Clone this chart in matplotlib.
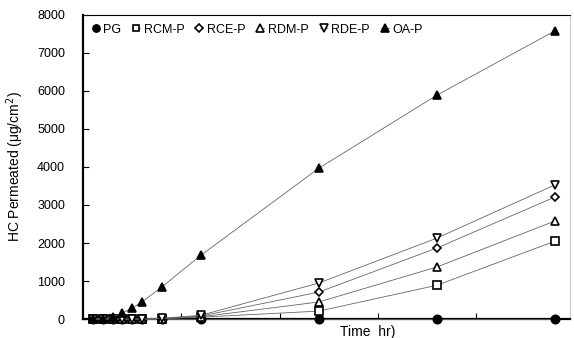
import matplotlib.pyplot as plt
import numpy as np

plt.rcParams['font.family'] = ['Liberation Sans', 'DejaVu Sans']

# time points (hr) and permeated amounts (ug/cm2)
time_hr = [1, 2, 3, 4, 5, 6, 8, 12, 24, 36, 48]
pg = [0, 0, 0, 0, 0, 0, 0, 0, 0, 0, 0]
rcm_p = [0, 0, 0, 0, 0, 0, 10, 50, 210, 890, 2050]
rce_p = [0, 0, 0, 0, 0, 0, 15, 80, 710, 1870, 3210]
rdm_p = [0, 0, 0, 0, 0, 0, 15, 60, 450, 1370, 2580]
rde_p = [0, 0, 0, 0, 0, 0, 20, 100, 950, 2130, 3530]
oa_p = [0, 0, 50, 160, 290, 450, 840, 1680, 3970, 5890, 7580]

y_ticks = [0, 1000, 2000, 3000, 4000, 5000, 6000, 7000, 8000]
x_ticks = [10, 20, 30, 40]

series = [
    ('PG', pg, 'o', 'black'),
    ('RCM-P', rcm_p, 's', 'white'),
    ('RCE-P', rce_p, 'D', 'white'),
    ('RDM-P', rdm_p, '^', 'white'),
    ('RDE-P', rde_p, 'v', 'white'),
    ('OA-P', oa_p, '^', 'black'),
]
sizes = {'o': 6, 's': 5.5, 'D': 4.5, '^': 6, 'v': 6}

fig = plt.figure(figsize=(5.74, 3.38), dpi=100)
ax = fig.add_axes([0.1446, 0.056, 0.848, 0.9])

for name, vals, mk, fc in series:
    ax.plot(time_hr, vals, color='#666666', lw=0.6, marker=mk,
            markersize=sizes[mk], markerfacecolor=fc, markeredgecolor='black',
            markeredgewidth=1.2, label=name, clip_on=False, zorder=3)

ax.set_xlim(0, 49.5)
ax.set_ylim(0, 8000)
ax.set_yticks(y_ticks)
ax.set_xticks(x_ticks)
ax.set_xticklabels([])
ax.tick_params(axis='y', direction='in', length=4, pad=13, labelsize=9)
ax.tick_params(axis='x', direction='in', length=4)
ax.spines['left'].set_linewidth(1.6)
ax.spines['bottom'].set_linewidth(1.6)
ax.spines['top'].set_linewidth(0.8)
ax.spines['right'].set_linewidth(0.6)
ax.spines['right'].set_color('#bbbbbb')

ax.set_ylabel('HC Permeated (μg/cm$^2$)', fontsize=10, labelpad=8)
fig.text(0.592, 0.018, 'Time  hr)', fontsize=10, ha='left', va='center')

ax.legend(loc='upper left', ncol=6, frameon=False, fontsize=9,
          handlelength=0.6, handletextpad=0.3, columnspacing=0.9,
          markerscale=0.85, borderaxespad=0.3, bbox_to_anchor=(0.0, 1.0))

fig.savefig('out.png', dpi=100)
